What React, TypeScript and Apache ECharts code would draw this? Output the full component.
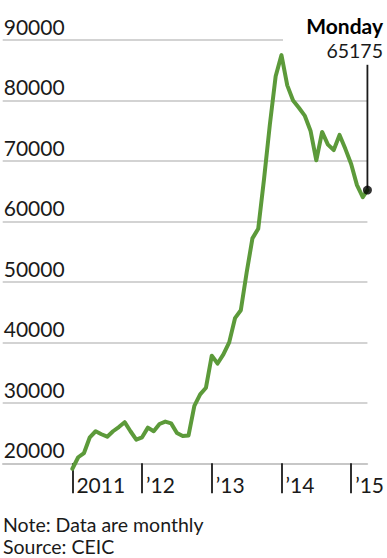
import React, { useEffect, useRef } from "react";
import * as echarts from "echarts";

// Month index: 0 = Jan 2011
const months: number[] = Array.from({ length: 51 }, (_, i) => i);
const values: number[] = [
  19100, 21000, 21700, 24300, 25300, 24800, 24400, 25300, 26000, 26800, 25300, 23900,
  24300, 25900, 25300, 26500, 26900, 26600, 25000, 24500, 24600, 29500, 31400, 32500,
  37800, 36500, 38000, 40000, 44000, 45300, 51500, 57200, 58800, 67000, 76000, 84000,
  87500, 82500, 80000, 78800, 77500, 75000, 70100, 74800, 72700, 71800, 74300, 72000,
  69500, 66000, 64000,
];
const yearTickMonths: number[] = [0, 12, 24, 36, 48];
const yearLabels: string[] = ["2011", "\u201912", "\u201913", "\u201914", "\u201915"];
const latestLabel = "Monday";
const latestMonth = 50.8;
const latestValue = 65175;
const leaderTopValue = 85900;
const notes: string[] = ["Note: Data are monthly", "Source: CEIC"];

const FONT = "Lato";
const GREEN = "#5c9a3a";
const GRID = "#c4c4c4";
const INK = "#1a1a1a";

export default function App() {
  const ref = useRef<HTMLDivElement>(null);
  useEffect(() => {
    if (!ref.current) return;
    const chart = echarts.init(ref.current, null, { renderer: "svg" });
    const lineData = months.map((m, i) => [m, values[i]]);
    lineData.push([latestMonth, latestValue]);
    chart.setOption({
      animation: false,
      textStyle: { fontFamily: FONT },
      grid: { left: 2.7, right: 18, top: 40, bottom: 94.7, containLabel: false },
      xAxis: {
        type: "value",
        min: -12,
        max: latestMonth,
        axisLine: { show: true, lineStyle: { color: GRID, width: 1.5 } },
        axisTick: {
          show: true,
          length: 30,
          customValues: yearTickMonths,
          lineStyle: { color: INK, width: 1.8 },
        },
        axisLabel: {
          show: true,
          customValues: yearTickMonths,
          formatter: (v: number) => yearLabels[yearTickMonths.indexOf(Math.round(v))] ?? "",
          align: "left",
          padding: [0, 0, 0, 4],
          margin: 11,
          fontFamily: FONT,
          fontSize: 21,
          color: INK,
        },
        splitLine: { show: false },
      },
      yAxis: {
        type: "value",
        min: 20000,
        max: 90000,
        interval: 10000,
        axisLine: { show: false },
        axisTick: { show: false },
        axisLabel: {
          inside: true,
          margin: 1,
          align: "left",
          verticalAlign: "bottom",
          lineHeight: 21,
          padding: [0, 0, 3, 0],
          formatter: (v: number) => String(v),
          fontFamily: FONT,
          fontSize: 21,
          color: INK,
        },
        splitLine: { show: true, lineStyle: { color: GRID, width: 1.5 } },
      },
      series: [
        {
          type: "line",
          data: [
            [latestMonth, latestValue],
            [latestMonth, leaderTopValue],
          ],
          symbol: "none",
          clip: false,
          lineStyle: { color: INK, width: 1.8 },
          z: 3,
        },
        {
          type: "line",
          data: lineData,
          symbol: "none",
          clip: false,
          lineStyle: { color: GREEN, width: 4, join: "round", cap: "round" },
          z: 4,
        },
        {
          type: "scatter",
          data: [[latestMonth, latestValue]],
          symbol: "circle",
          symbolSize: 9,
          clip: false,
          itemStyle: { color: "#000" },
          z: 5,
        },
      ],
      graphic: [
        {
          type: "rect",
          shape: { x: 283, y: 34, width: 104, height: 12 },
          style: { fill: "#fff" },
          z: 100,
        },
        {
          type: "text",
          x: 383,
          y: 25,
          z: 101,
          style: {
            text: latestLabel,
            fontFamily: FONT,
            fontWeight: "bold",
            fontSize: 21,
            fill: "#000",
            align: "right",
            verticalAlign: "middle",
          },
        },
        {
          type: "text",
          x: 383,
          y: 50,
          z: 101,
          style: {
            text: String(latestValue),
            fontFamily: FONT,
            fontSize: 19.5,
            fill: INK,
            align: "right",
            verticalAlign: "middle",
          },
        },
        {
          type: "text",
          x: 3,
          y: 524,
          style: {
            text: notes[0],
            fontFamily: FONT,
            fontSize: 19.5,
            fill: INK,
            align: "left",
            verticalAlign: "middle",
          },
        },
        {
          type: "text",
          x: 3,
          y: 546,
          style: {
            text: notes[1],
            fontFamily: FONT,
            fontSize: 19.5,
            fill: INK,
            align: "left",
            verticalAlign: "middle",
          },
        },
      ],
    });
    return () => chart.dispose();
  }, []);
  return (
    <div
      ref={ref}
      style={{ position: "absolute", left: 0, top: 0, width: 387, height: 558, background: "#fff" }}
    />
  );
}
